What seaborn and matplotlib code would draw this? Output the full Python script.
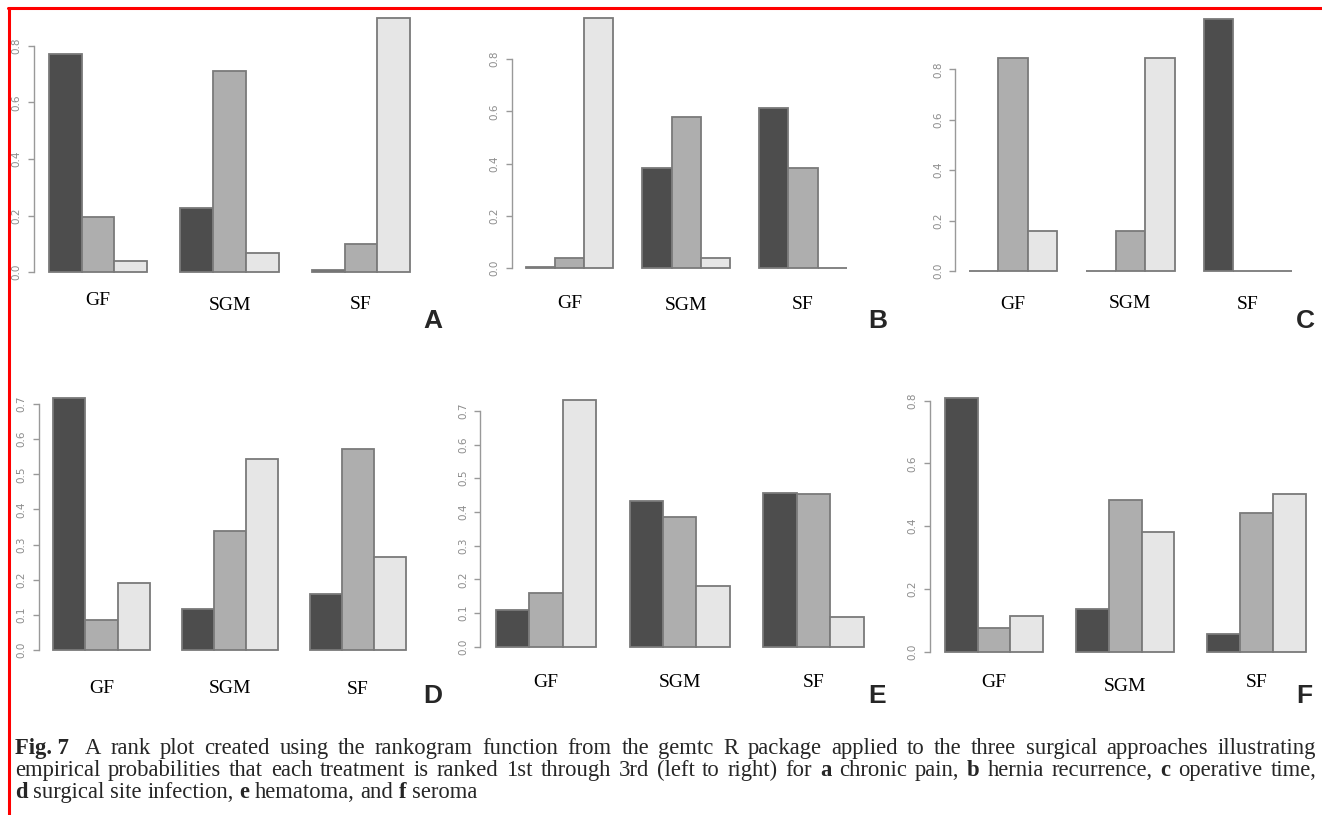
import pandas as pd
import seaborn as sns
import matplotlib.pyplot as plt
import matplotlib.transforms as mtransforms
from matplotlib.lines import Line2D
from matplotlib.ticker import FormatStrFormatter

# Data: probability that each treatment (rows) gets rank 1st/2nd/3rd (columns)
treatments = ["GF", "SGM", "SF"]
ranks = ["1st", "2nd", "3rd"]
panel_letters = ["A", "B", "C", "D", "E", "F"]

chronic_pain = [[0.772, 0.195, 0.040], [0.226, 0.711, 0.067], [0.008, 0.100, 0.900]]
hernia_recurrence = [[0.004, 0.040, 0.957], [0.382, 0.577, 0.040], [0.614, 0.382, 0.000]]
operative_time = [[0.000, 0.844, 0.160], [0.000, 0.160, 0.844], [1.000, 0.000, 0.000]]
site_infection = [[0.718, 0.085, 0.190], [0.117, 0.339, 0.543], [0.158, 0.572, 0.264]]
hematoma = [[0.109, 0.158, 0.732], [0.432, 0.386, 0.180], [0.457, 0.453, 0.087]]
seroma = [[0.810, 0.077, 0.115], [0.136, 0.484, 0.381], [0.056, 0.441, 0.503]]

panels = [chronic_pain, hernia_recurrence, operative_time, site_infection, hematoma, seroma]
y_tick_max = [0.8, 0.8, 0.8, 0.7, 0.7, 0.8]
y_tick_step = [0.2, 0.2, 0.2, 0.1, 0.1, 0.2]

caption_lines = [
    "**Fig.\u00a07** A rank plot created using the rankogram function from the gemtc R package "
    "applied to the three surgical approaches illustrating",
    "empirical probabilities that each treatment is ranked 1st through 3rd (left to right) for "
    "**a** chronic pain, **b** hernia recurrence, **c** operative time,",
    "**d** surgical site infection, **e** hematoma, and **f** seroma",
]

grays = ["#4D4D4D", "#AEAEAE", "#E6E6E6"]

# layout in pixels: GF group centre x, px per group, zero line y, px per unit
W, H = 1322, 815
layout = [
    (98, 131.5, 272, 282.5),
    (569.5, 116.75, 268, 261),
    (1013, 117.5, 271, 252),
    (101.5, 128.25, 650, 351.4),
    (546, 133.75, 646.7, 337),
    (994, 131.25, 651.7, 313.75),
]
label_baselines = [(305, 310, 309), (308, 310, 309), (309, 308, 309),
                   (693, 693, 694), (687, 687, 687), (687, 691, 687)]
letter_pos = [(423, 328), (868, 328), (1296, 328), (423, 703), (868, 703), (1296, 703)]

sns.set_theme(style="white")
plt.rcParams["font.family"] = ["Liberation Serif", "DejaVu Serif"]

fig = plt.figure(figsize=(W / 100, H / 100), dpi=100)
fig.patch.set_facecolor("white")

for i, probs in enumerate(panels):
    df = pd.DataFrame(probs, index=treatments, columns=ranks)
    df = df.reset_index(names="treatment").melt(id_vars="treatment", var_name="rank", value_name="prob")

    gx, gs, zy, us = layout[i]
    xlo, xhi = -0.49, 2.52
    ylo = -0.02
    yhi = df["prob"].max() * 1.04
    left, right = gx + xlo * gs, gx + xhi * gs
    top, bottom = zy - yhi * us, zy - ylo * us
    ax = fig.add_axes([left / W, 1 - bottom / H, (right - left) / W, (bottom - top) / H])
    ax.patch.set_alpha(0)

    sns.barplot(data=df, x="treatment", y="prob", hue="rank", order=treatments,
                hue_order=ranks, palette=grays, saturation=1, width=0.75,
                edgecolor="#7a7a7a", linewidth=1.3, errorbar=None, legend=False, ax=ax)

    ax.set_xlim(xlo, xhi)
    ax.set_ylim(ylo, yhi)
    ax.set_xlabel("")
    ax.set_ylabel("")
    ax.set_xticks([])
    ax.set_yticks([t * y_tick_step[i] for t in range(round(y_tick_max[i] / y_tick_step[i]) + 1)])
    ax.yaxis.set_major_formatter(FormatStrFormatter("%.1f"))
    ax.tick_params(axis="y", left=True, direction="out", length=4, width=1, color="#999999",
                   labelsize=7.5, labelcolor="#8c8c8c", labelrotation=90, pad=5)
    for lab in ax.get_yticklabels():
        lab.set_va("center")
        lab.set_family("DejaVu Sans")
    for side in ["top", "right", "bottom"]:
        ax.spines[side].set_visible(False)
    ax.spines["left"].set_color("#999999")
    ax.spines["left"].set_linewidth(1)
    ax.spines["left"].set_bounds(0, y_tick_max[i])
    ax.grid(False)

    trans = mtransforms.blended_transform_factory(ax.transData, fig.transFigure)
    for j, name in enumerate(treatments):
        ax.text(j, 1 - label_baselines[i][j] / H, name, transform=trans, ha="center",
                va="baseline", fontsize=14, family="Liberation Serif", color="black")

    lx, ly = letter_pos[i]
    fig.text(lx / W, 1 - ly / H, panel_letters[i], ha="left", va="baseline", fontsize=19,
             fontweight="bold", family="Liberation Sans")

# caption, justified like the journal layout
renderer = fig.canvas.get_renderer()
cap_left, cap_right = 15, 1316
cap_baselines = [754, 776, 798]
cap_size = 16.3
for k, line in enumerate(caption_lines):
    texts = []
    for word in line.split(" "):
        bold = word.startswith("**")
        t = fig.text(0, 1 - cap_baselines[k] / H, word.strip("*"), ha="left", va="baseline",
                     fontsize=cap_size, family="Liberation Serif",
                     fontweight="bold" if bold else "normal")
        texts.append(t)
    widths = [t.get_window_extent(renderer).width for t in texts]
    # wider space after the figure number
    extra = [6 if (k == 0 and n == 0) else 0 for n in range(len(texts))]
    if k < len(caption_lines) - 1:
        gap = (cap_right - cap_left - sum(widths) - sum(extra)) / (len(texts) - 1)
    else:
        gap = 0.25 * cap_size * 100 / 72
    x = cap_left
    for t, w, e in zip(texts, widths, extra):
        t.set_x(x / W)
        x += w + gap + e

# red frame on top and left
fig.add_artist(Line2D([8 / W, 1], [1 - 7.5 / H, 1 - 7.5 / H], color="#ff0000", lw=2.2,
                      transform=fig.transFigure))
fig.add_artist(Line2D([9 / W, 9 / W], [0, 1 - 7.5 / H], color="#ff0000", lw=2.2,
                      transform=fig.transFigure))

fig.savefig("out.png", dpi=100, facecolor="white")
